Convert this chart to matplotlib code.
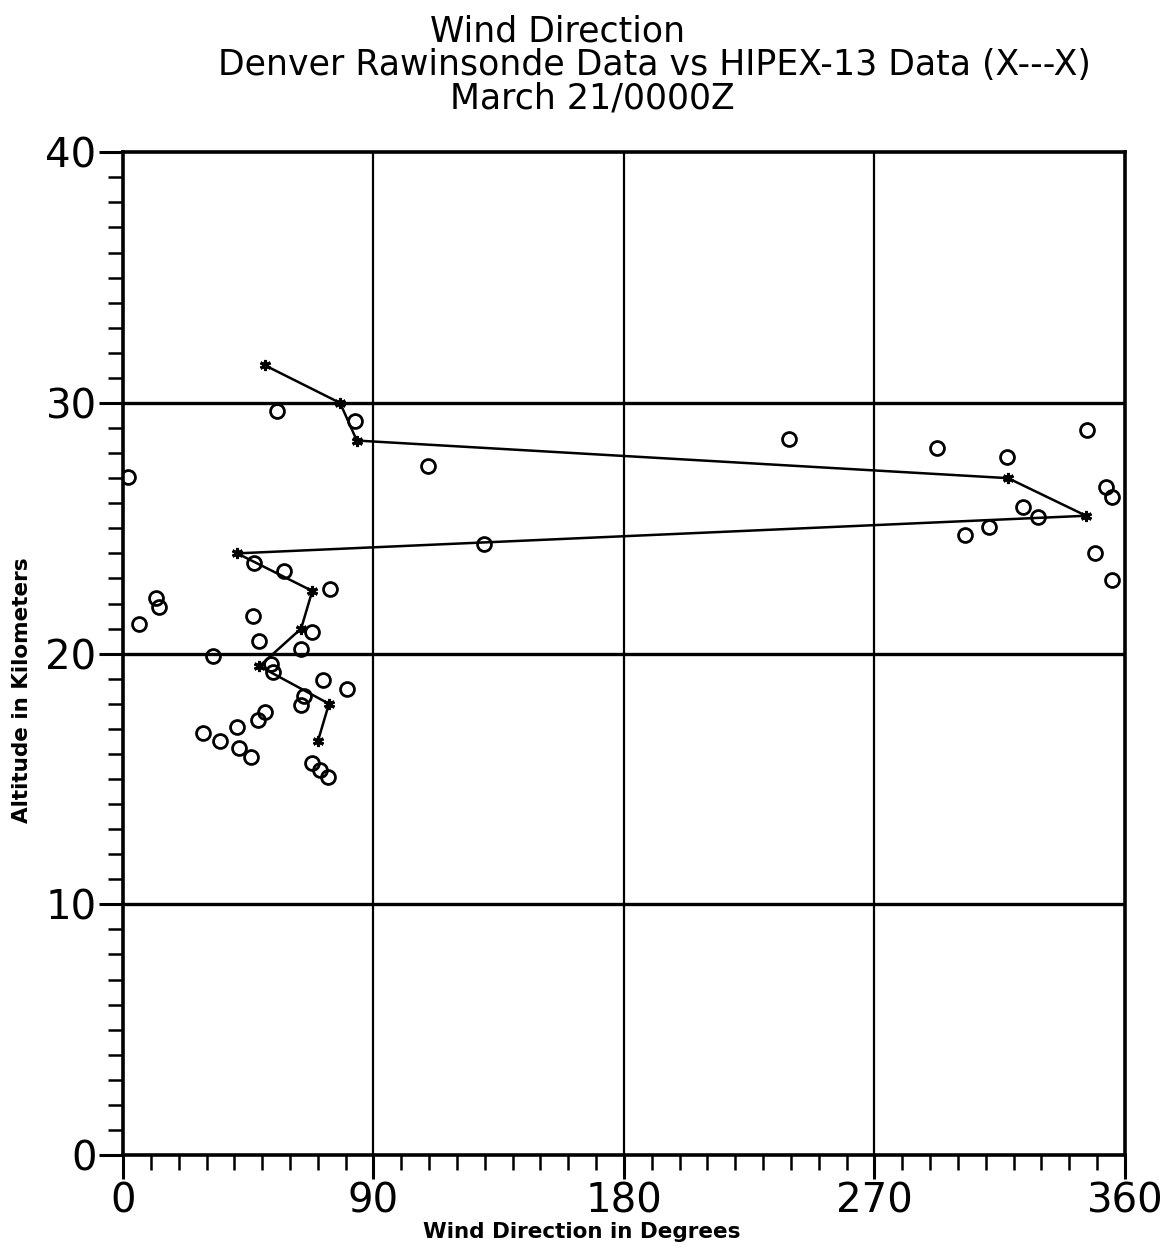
import matplotlib
matplotlib.use("Agg")
import matplotlib.pyplot as plt
from matplotlib.ticker import MultipleLocator

# HIPEX-13 profile (stars joined by a line)
hipex_dir = [51, 78, 84, 318, 346, 41, 68, 64, 49, 74, 70]
hipex_alt = [31.5, 30.0, 28.5, 27.0, 25.5, 24.0, 22.5, 21.0, 19.5, 18.0, 16.5]

# Denver rawinsonde (open circles)
raob_dir = [1.8, 55.3, 83.4, 109.6, 129.7, 239.3, 292.5, 317.6, 346.4, 353.2,
            355.4, 323.4, 328.8, 302.5, 311.2, 349.3, 355.4, 5.8, 11.9, 12.9,
            32.3, 47.1, 57.9, 74.4, 46.7, 48.9, 67.9, 64.0, 53.0, 53.9,
            71.8, 80.5, 65.0, 63.9, 51.0, 48.6, 40.8, 28.9, 34.8, 41.8,
            46.0, 67.8, 70.8, 73.8]
raob_alt = [27.04, 29.67, 29.27, 27.48, 24.37, 28.55, 28.2, 27.84, 28.91, 26.64,
            26.24, 25.84, 25.44, 24.73, 25.04, 24.0, 22.93, 21.18, 22.21, 21.85,
            19.9, 23.6, 23.29, 22.57, 21.5, 20.5, 20.86, 20.18, 19.6, 19.26,
            18.94, 18.58, 18.3, 17.95, 17.68, 17.35, 17.06, 16.82, 16.52, 16.22,
            15.88, 15.64, 15.37, 15.06]

x_major = [0, 90, 180, 270, 360]
y_major = [0, 10, 20, 30, 40]

plt.rcParams["font.family"] = ["DejaVu Sans"]

fig = plt.figure(figsize=(11.67, 12.48), dpi=100)
ax = fig.add_axes([0.1054, 0.0745, 0.8586, 0.8035])
ax.set_xlim(0, 360)
ax.set_ylim(0, 40)

# grid lines inside the frame
for v in x_major[1:-1]:
    ax.axvline(v, color="black", lw=1.6, zorder=1)
for v in y_major[1:-1]:
    ax.axhline(v, color="black", lw=2.4, zorder=1)

ax.plot(hipex_dir, hipex_alt, color="black", lw=1.8, marker=(6, 2, 0),
        ms=8, mew=2.2, zorder=3)
ax.plot(raob_dir, raob_alt, ls="none", marker="o", ms=10, mfc="none",
        mec="black", mew=2.0, zorder=4)

for s in ax.spines.values():
    s.set_linewidth(2.6)

ax.xaxis.set_minor_locator(MultipleLocator(10))
ax.yaxis.set_minor_locator(MultipleLocator(1))
ax.tick_params(which="major", direction="out", length=17, width=2.2,
               labelsize=29, pad=2)
ax.tick_params(which="minor", direction="out", length=11, width=1.8)
ax.set_xticks(x_major)
ax.set_yticks(y_major)
ax.set_xticklabels([str(v) for v in x_major])
ax.set_yticklabels([str(v) for v in y_major])

ax.set_xlabel("Wind Direction in Degrees", fontsize=15.5, fontweight="bold",
              ha="center", va="center")
ax.xaxis.set_label_coords(0.458, -0.077)
ax.set_ylabel("Altitude in Kilometers", fontsize=15.5, fontweight="bold",
              ha="center", va="center")
ax.yaxis.set_label_coords(-0.101, 0.464)

fig.text(0.478, 0.975, "Wind Direction", ha="center", va="center", fontsize=25)
fig.text(0.561, 0.948, "Denver Rawinsonde Data vs HIPEX-13 Data (X---X)",
         ha="center", va="center", fontsize=25)
fig.text(0.508, 0.921, "March 21/0000Z", ha="center", va="center", fontsize=25)

fig.savefig("out.png", dpi=100)
